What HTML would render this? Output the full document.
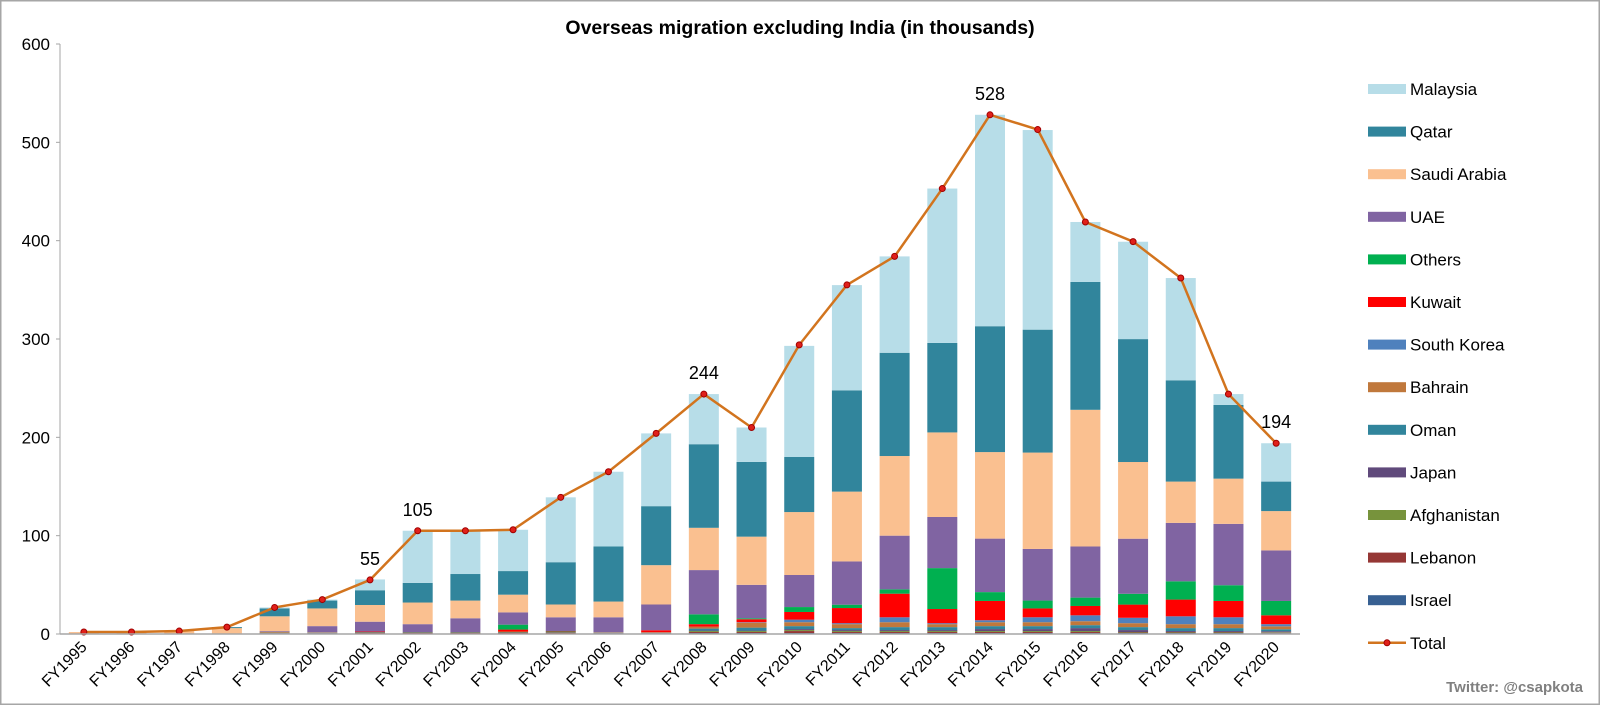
<!DOCTYPE html>
<html><head><meta charset="utf-8"><style>
html,body{margin:0;padding:0;background:#fff;}
svg{display:block;font-family:"Liberation Sans",Arial,sans-serif;}
</style></head><body>
<svg id="chart" width="1600" height="705" viewBox="0 0 1600 705" xmlns="http://www.w3.org/2000/svg">
<rect x="0.5" y="0.5" width="1599" height="704" fill="#fff" stroke="#a6a6a6" stroke-width="2"/>
<text x="800" y="34" text-anchor="middle" font-size="19.5" font-weight="bold" fill="#000">Overseas migration excluding India (in thousands)</text>
<g id="grid"></g><g id="bars"></g><g id="line"></g><g id="axes"></g><g id="legend"></g>
<text x="1583" y="692" text-anchor="end" font-size="15" font-weight="bold" fill="#808080">Twitter: @csapkota</text>
</svg>
<script>
const categories=["FY1995","FY1996","FY1997","FY1998","FY1999","FY2000","FY2001","FY2002","FY2003","FY2004","FY2005","FY2006","FY2007","FY2008","FY2009","FY2010","FY2011","FY2012","FY2013","FY2014","FY2015","FY2016","FY2017","FY2018","FY2019","FY2020"];
const israel=[0,0,0,0,0.5,0.5,0.5,0.5,0.5,0.5,0.5,0.3,0.3,1,1,1,1,1,1,1,1,1,1,1,1,0.8];
const lebanon=[0,0,0,0,0.3,0.3,0.5,0.5,0.5,0.5,0.5,0.5,0.5,1,1,2,1,1,1,1,1,1,0.5,0.5,0.5,0.5];
const afghanistan=[0,0,0,0,0,0,0,0,0,0,0,0,0,1,1,1,1,1,1,1,1,1,0.5,0.5,0.5,0.5];
const japan=[0,0,0,0,0,0,0,0,0,0,0,0,0,0.5,0.5,1,1,1,1,2,2,3,2,1,1,1];
const oman=[0,0,0,0,0.5,0.5,0.5,0.5,0.5,0.5,0.5,0.5,0.5,2,3,3,2,3,3,3,3,3,3,3,3,2];
const bahrain=[0,0,0,0,1,0.5,0.5,0.5,0.5,1,0.5,0.5,0.5,2,5,4,4,5,3,4,4,4,4,4,4,3];
const southKorea=[0,0,0,0,0,0,0,0,0,0,0,0,0,0,0.5,2.6,1,5,1,2,5,6,5.5,8,7,2.2];
const kuwait=[0,0,0,0,0,0,0.5,0,0,2,0.5,0,2,2.5,3,7.8,15.4,24,14.4,19.6,9,9.5,13.4,17,16.6,9];
const others=[0,0,0,0,0,0,0,0,0,5,0.5,0,0,10,1,5,3.4,4.4,41.6,9,8,8.5,11,18.6,16,14.6];
const uae=[0.5,0.5,0.5,0.5,0.7,6.2,10,8,14,12.5,14,15.2,26.2,45,34,32.6,44,54.6,52,54.4,52.5,52,56,59.4,62.4,51.4];
const saudi=[1.5,1.5,2.5,5.5,15,18,17,22,18,18,13,16,40,43,49,64,71,81,86,88,98,139,78,42,46,40];
const qatar=[0,0,0,1,8,8,15,20,27,24,43,56,60,85,76,56,103,105,91,128,125,130,125,103,75,30];
const malaysia=[0,0,0,0,1,1,11,53,44,42,66,76,74,51,35,113,107,98,157,215,203,61,99,104,11,39];
const total=[2,2,3,7,27,35,55,105,105,106,139,165,204,244,210,294,355,384,453,528,513,419,399,362,244,194];
const labeledTotals=["FY2001","FY2002","FY2008","FY2014","FY2020"];
const yTicks=[0,100,200,300,400,500,600];

const series=[
 ["Israel",israel,"#376092"],["Lebanon",lebanon,"#953735"],["Afghanistan",afghanistan,"#77933c"],
 ["Japan",japan,"#604a7b"],["Oman",oman,"#31859c"],["Bahrain",bahrain,"#c0783c"],
 ["South Korea",southKorea,"#4f81bd"],["Kuwait",kuwait,"#ff0000"],["Others",others,"#00b050"],
 ["UAE",uae,"#8064a2"],["Saudi Arabia",saudi,"#fac090"],["Qatar",qatar,"#31859c"],["Malaysia",malaysia,"#b7dde8"]];
const NS="http://www.w3.org/2000/svg";
const X0=60,X1=1300,Y0=634,Y1=44;
const band=(X1-X0)/categories.length;
const xC=i=>X0+(i+0.5)*band;
const yS=v=>Y0-(v/600)*(Y0-Y1);
function mk(tag,attrs,parent){const e=document.createElementNS(NS,tag);for(const k in attrs)e.setAttribute(k,attrs[k]);parent.appendChild(e);return e;}
const bars=document.getElementById('bars'),axes=document.getElementById('axes'),line=document.getElementById('line'),legend=document.getElementById('legend');
const bw=30;
categories.forEach((c,i)=>{
  let cum=0;
  series.forEach(s=>{
    const v=s[1][i];if(v<=0)return;
    const r=mk('rect',{x:xC(i)-bw/2,y:yS(cum+v),width:bw,height:yS(cum)-yS(cum+v),fill:s[2]},bars);
    
    
    cum+=v;
  });
});
let a=mk('line',{x1:X0,y1:Y1,x2:X0,y2:Y0,stroke:'#a6a6a6','stroke-width':1},axes);

a=mk('line',{x1:X0,y1:Y0,x2:X1,y2:Y0,stroke:'#a6a6a6','stroke-width':1.5},axes);

yTicks.forEach(t=>{
  const tl=mk('text',{x:X0-10,y:yS(t)+6,'text-anchor':'end','font-size':17,fill:'#000'},axes);
  tl.textContent=t;
  
  const tk=mk('line',{x1:X0-4,y1:yS(t),x2:X0,y2:yS(t),stroke:'#a6a6a6'},axes);
  
});
categories.forEach((c,i)=>{
  const x=xC(i)+4,y=Y0+14;
  const tl=mk('text',{x:x,y:y,'text-anchor':'end','font-size':16,fill:'#000',transform:`rotate(-45 ${x} ${y})`},axes);
  tl.textContent=c;
  
});
const pts=total.map((v,i)=>xC(i)+','+yS(v)).join(' ');
const pl=mk('polyline',{points:pts,fill:'none',stroke:'#d2741e','stroke-width':2.5},line);

total.forEach((v,i)=>{
  const m=mk('circle',{cx:xC(i),cy:yS(v),r:3,fill:'#e0201a',stroke:'#a00000','stroke-width':1},line);
  
  
  if(labeledTotals.includes(categories[i])){
    const t=mk('text',{x:xC(i),y:yS(v)-15,'text-anchor':'middle','font-size':18,fill:'#000'},line);
    t.textContent=v;
    
    
  }
});
const legOrder=series.slice().reverse();
const LX=1368,LY=89,LS=42.6;
legOrder.forEach((s,k)=>{
  const y=LY+k*LS;
  const g=mk('g',{},legend);
  
  
  mk('rect',{x:LX,y:y-5,width:38,height:10,fill:s[2]},g);
  const t=mk('text',{x:LX+42,y:y+6,'font-size':17,fill:'#000'},g);t.textContent=s[0];
});
const yT=LY+13*LS;
const g=mk('g',{},legend);


mk('line',{x1:LX,y1:yT,x2:LX+38,y2:yT,stroke:'#d2741e','stroke-width':2.5},g);
mk('circle',{cx:LX+19,cy:yT,r:3,fill:'#e0201a',stroke:'#a00000'},g);
const tt=mk('text',{x:LX+42,y:yT+6,'font-size':17,fill:'#000'},g);tt.textContent='Total';
</script>
</body></html>
